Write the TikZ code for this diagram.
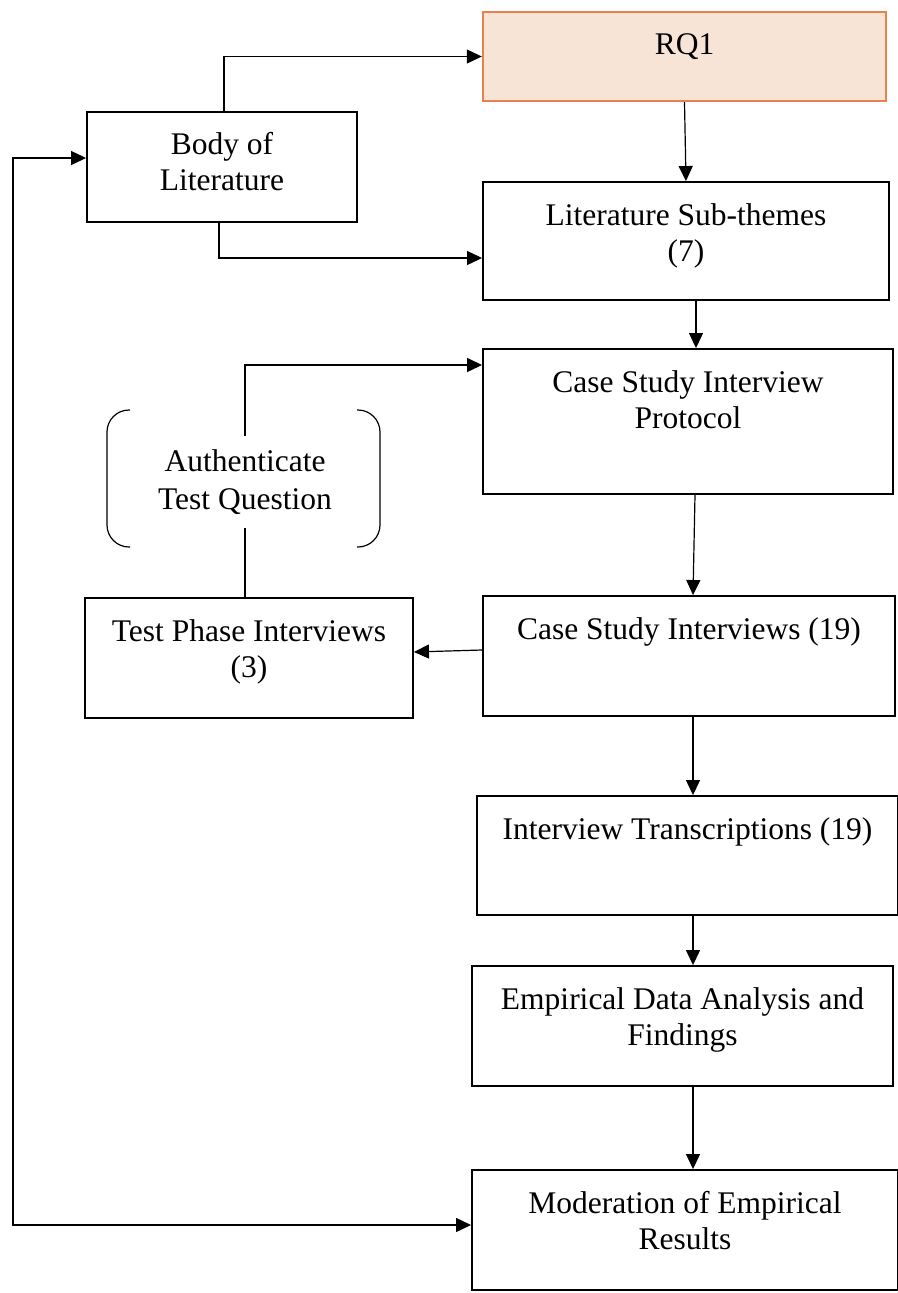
\documentclass[tikz,border=0pt]{standalone}
\usepackage{fontspec}
\setmainfont{Liberation Serif}
\usetikzlibrary{arrows.meta,calc}
\definecolor{rqfill}{HTML}{F8E4D7}
\definecolor{rqline}{HTML}{E8814B}
\begin{document}
\begin{tikzpicture}[x=1pt,y=-1pt,
  box/.style={draw=black, line width=1.9pt, inner sep=0pt, rectangle},
  lbl/.style={font=\fontsize{31.5}{36.5}\selectfont, align=center, inner sep=0pt, anchor=north},
  conn/.style={line width=1.2pt, -{Triangle[length=15pt,width=14pt]}},
  brk/.style={line width=1.2pt, rounded corners=22pt}]
\useasboundingbox (0,0) rectangle (897,1293);

% process boxes
\node[box, fill=rqfill, draw=rqline, line width=2.4pt, minimum width=403pt, minimum height=89pt] (rq) at (684.5,56.5) {};
\node[lbl] (rqt) at ([yshift=-23pt]rq.north) {RQ1};

\node[box, minimum width=270pt, minimum height=110pt] (body) at (222,167) {};
\node[lbl] (bodyt) at ([yshift=-21pt]body.north) {Body of\\Literature};

\node[box, minimum width=406pt, minimum height=118pt] (sub) at (686,241) {};
\node[lbl] (subt) at ([yshift=-22pt]sub.north) {Literature Sub-themes\\(7)};

\node[box, minimum width=410pt, minimum height=145pt] (prot) at (688,421.5) {};
\node[lbl] (prott) at ([yshift=-22pt]prot.north) {Case Study Interview\\Protocol};

\node[box, minimum width=328pt, minimum height=120pt] (tp) at (249,658) {};
\node[lbl] (tpt) at ([yshift=-22pt]tp.north) {Test Phase Interviews\\(3)};

\node[box, minimum width=412pt, minimum height=120pt] (csi) at (689,656) {};
\node[lbl] (csit) at ([yshift=-22pt]csi.north) {Case Study Interviews (19)};

\node[box, minimum width=421pt, minimum height=119pt] (it) at (687.5,855.5) {};
\node[lbl] (itt) at ([yshift=-22pt]it.north) {Interview Transcriptions (19)};

\node[box, minimum width=421pt, minimum height=120pt] (eda) at (682.5,1026) {};
\node[lbl] (edat) at ([yshift=-22pt]eda.north) {Empirical Data Analysis and\\Findings};

\node[box, minimum width=426pt, minimum height=120pt] (mod) at (685,1230) {};
\node[lbl] (modt) at ([yshift=-22pt]mod.north) {Moderation of Empirical\\Results};

% connectors
\draw[conn] ([xshift=2pt]body.north) |- (rq.west);
\draw[conn] ([xshift=-3pt]body.south) |- ([yshift=-17pt]sub.west);
\draw[conn] (rq.south) -- (sub.north);
\draw[conn] ([xshift=10pt]sub.south) -- ([xshift=8pt]prot.north);
\draw[conn] ([xshift=7pt]prot.south) -- ([xshift=4pt]csi.north);
\draw[conn] ([yshift=6pt]csi.west) -- ([yshift=6pt]tp.east);
\draw[conn] ([xshift=-4pt]tp.north) |- ([yshift=56.5pt]prot.west);
\draw[conn] ([xshift=4pt]csi.south) -- ([xshift=5.5pt]it.north);
\draw[conn] ([xshift=5.5pt]it.south) -- ([xshift=10.5pt]eda.north);
\draw[conn] ([xshift=10.5pt]eda.south) -- ([xshift=8pt]mod.north);

% feedback loop from moderation back to the literature
\coordinate (rail) at (13,0);
\coordinate (bw) at ([yshift=9pt]body.west);
\coordinate (mw) at ([yshift=5pt]mod.west);
\draw[line width=1.2pt, {Triangle[length=15pt,width=14pt]}-{Triangle[length=15pt,width=14pt]}]
  (bw) -- (bw -| rail) -- (mw -| rail) -- (mw);

% bracketed note on the test-phase path
\node[fill=white, inner sep=0pt, minimum width=200pt, minimum height=92pt,
      font=\fontsize{31.5}{37.5}\selectfont, align=center] (auth) at (245,482) {Authenticate\\Test Question};
\draw[brk] ($(auth.center)+(-115,-72)$) -- ($(auth.center)+(-138,-72)$)
  -- ($(auth.center)+(-138,65)$) -- ($(auth.center)+(-115,65)$);
\draw[brk] ($(auth.center)+(112,-72)$) -- ($(auth.center)+(135,-72)$)
  -- ($(auth.center)+(135,65)$) -- ($(auth.center)+(112,65)$);
\end{tikzpicture}
\end{document}
